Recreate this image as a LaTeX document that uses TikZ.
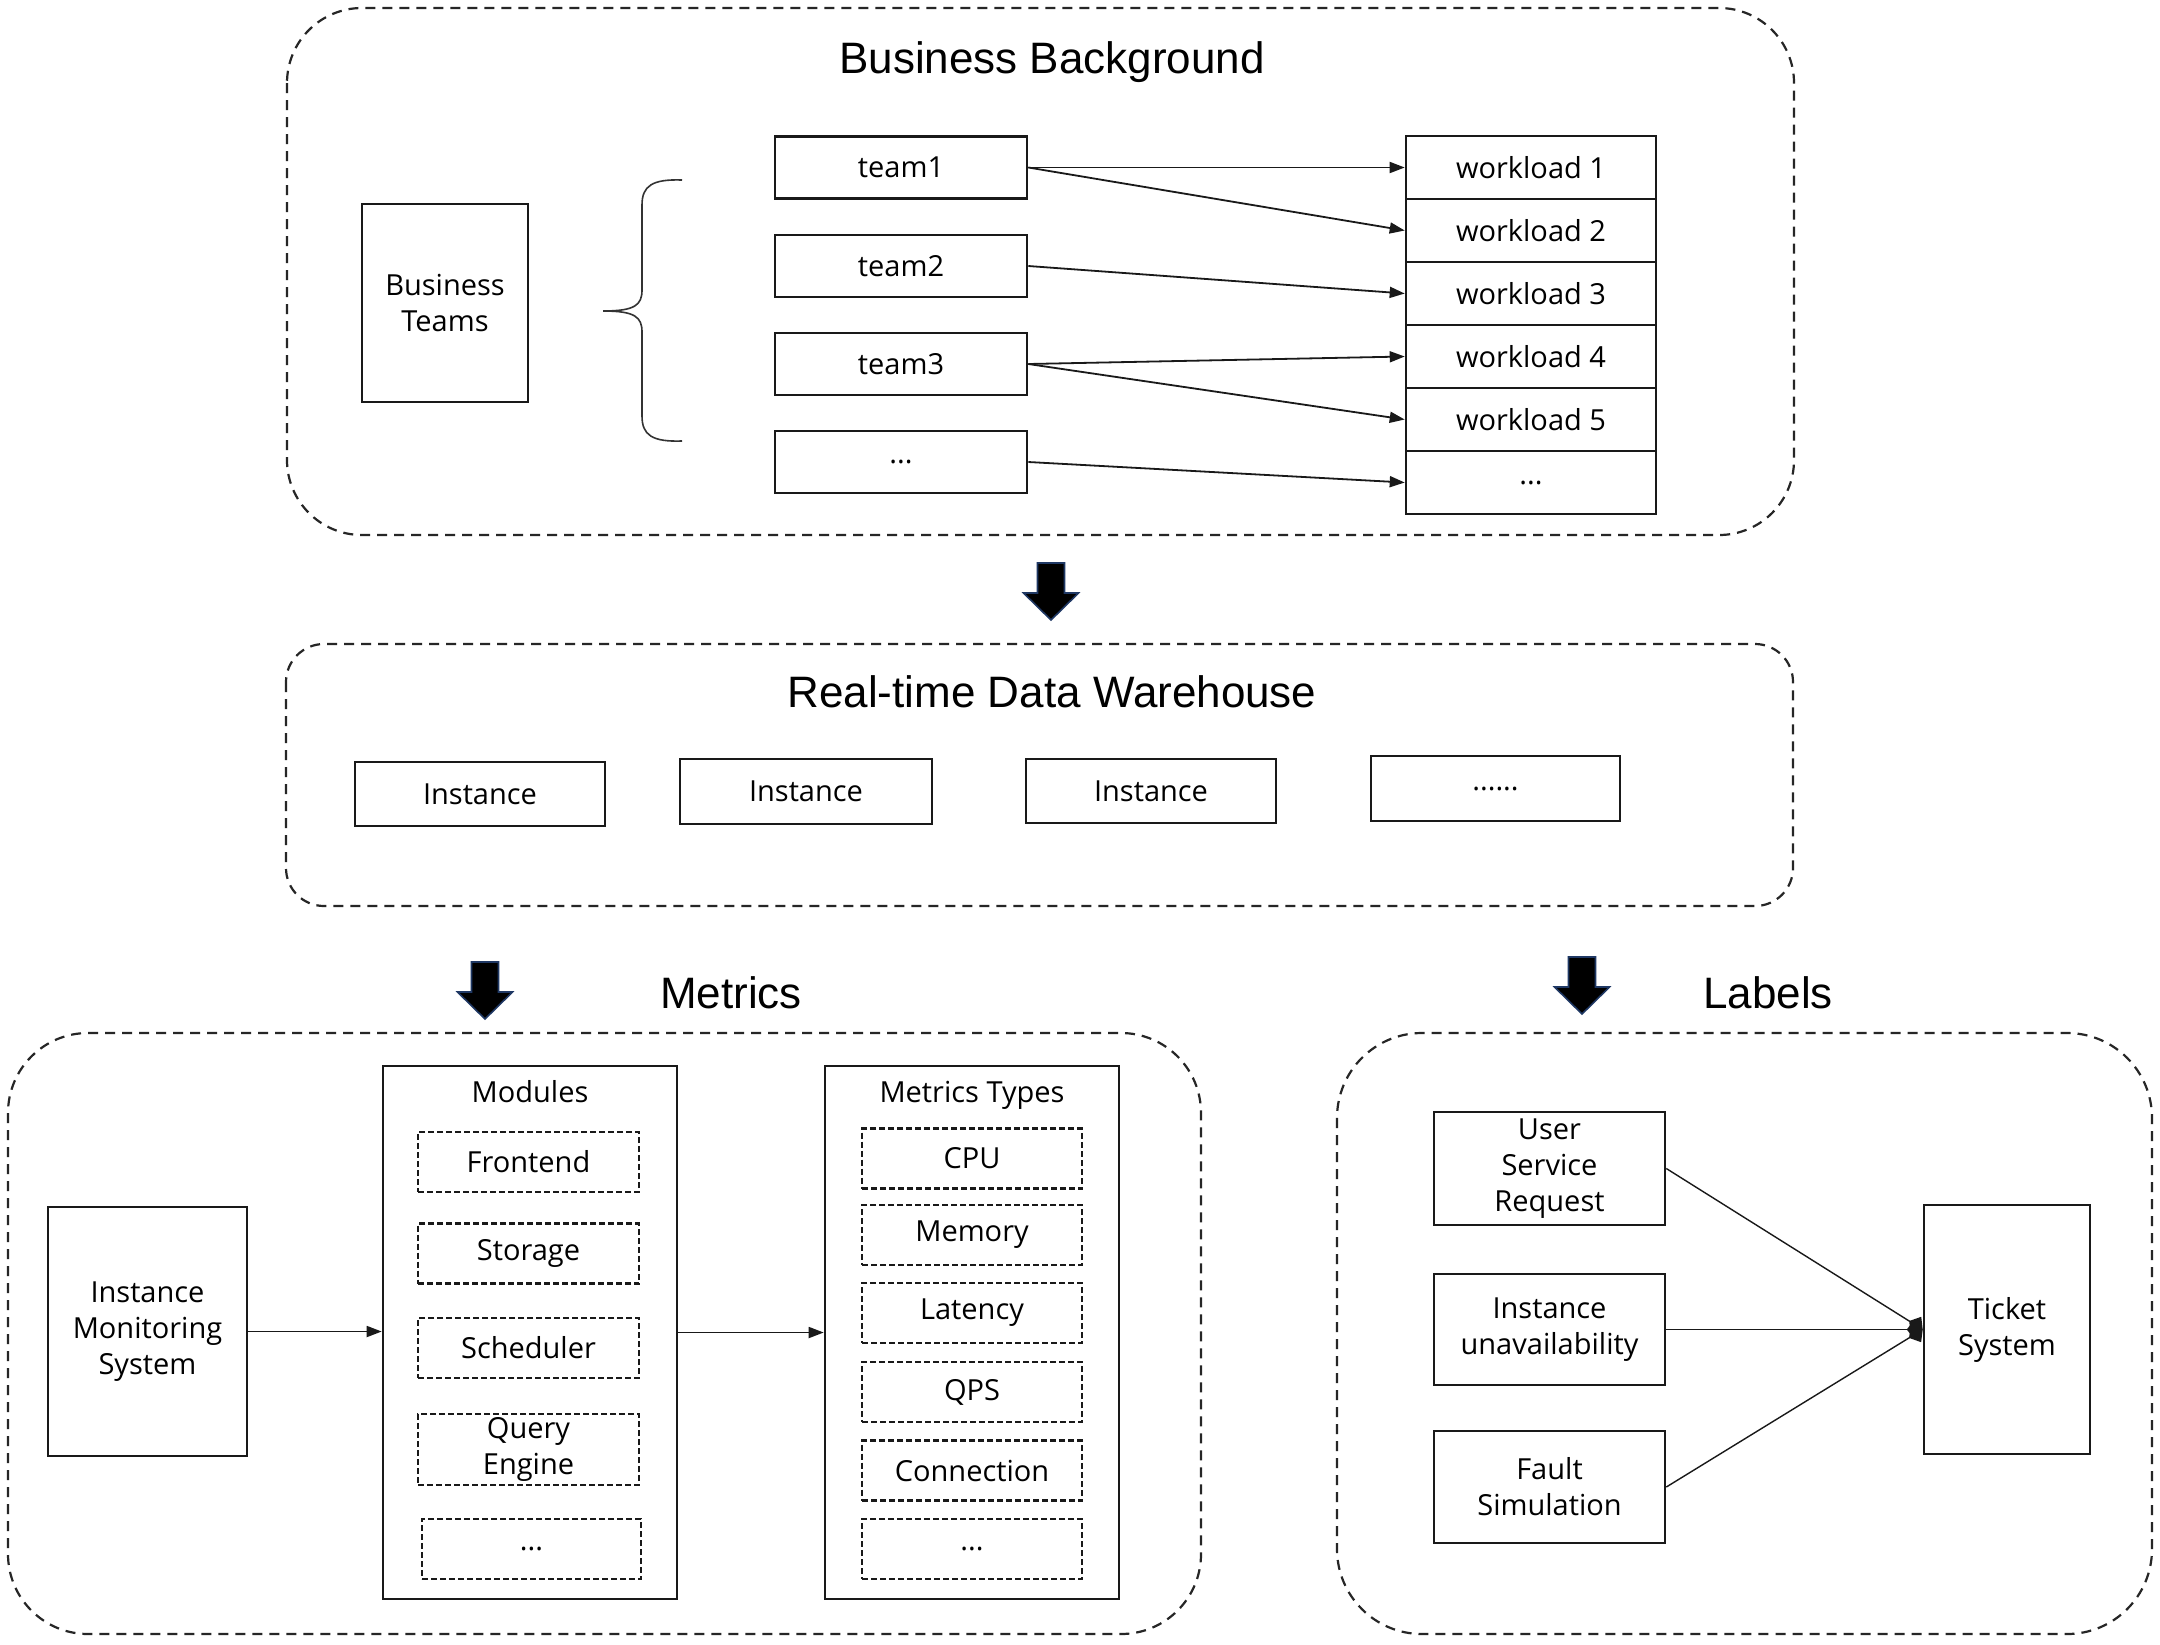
\documentclass[tikz,border=0pt]{standalone}
\usepackage{fontspec}
\setmainfont{Open Sans}
\newfontfamily\titlefont{Liberation Sans}
\usetikzlibrary{arrows.meta}
\definecolor{arrowblue}{HTML}{1F3864}
\newcommand\mydots{...}
\begin{document}
\begin{tikzpicture}[x=1pt,y=-1pt,
  box/.style={draw=black!90, line width=2.6pt, rectangle, inner sep=0pt, align=center, font=\fontsize{29}{36}\selectfont},
  dbox/.style={box, dash pattern=on 6pt off 3pt, line width=2.4pt},
  group/.style={draw=black!85, line width=2.2pt, dash pattern=on 10pt off 7pt},
  title/.style={font=\titlefont\fontsize{44}{52}\selectfont, anchor=base, inner sep=0pt},
  sub/.style={font=\fontsize{29}{36}\selectfont, anchor=base, inner sep=0pt},
  conn/.style={draw=black!90, line width=1.8pt, -{Triangle[length=15pt,width=11pt]}},
  thinconn/.style={draw=black!90, line width=1.4pt, -{Diamond[length=16pt,width=20pt]}},
  bigarrow/.pic={\filldraw[fill=black, draw=arrowblue, line width=1.6pt] (-13.5,0) -- (13.5,0) -- (13.5,30) -- (27.5,30) -- (0,57) -- (-27.5,30) -- (-13.5,30) -- cycle;}
]
\useasboundingbox (0,0) rectangle (2160,1644);
\fill[white] (0,0) rectangle (2160,1644);

% containers
\draw[group, rounded corners=75pt] (287,8) rectangle (1794,535);
\draw[group, rounded corners=38pt] (286,644) rectangle (1793,906);
\draw[group, rounded corners=80pt] (8,1033) rectangle (1201,1634);
\draw[group, rounded corners=85pt] (1337,1033) rectangle (2152,1634);

% titles
\node[title] (tbb) at (1052,73) {Business Background};
\node[title] (tdw) at (1052,707) {Real-time Data Warehouse};
\node[title] (tmet) at (731,1008) {Metrics};
\node[title] (tlab) at (1768,1008) {Labels};

% big arrows
\pic at (1051,563) {bigarrow};
\pic at (485,962) {bigarrow};
\pic at (1582,957) {bigarrow};

% Business background
\node[box, minimum width=166pt, minimum height=198pt] (bt) at (445,303) {Business\\Teams};
\draw[line width=1.6pt, black!80] (682,180) .. controls (652,179) and (642,186) .. (642,205) -- (642,290) .. controls (642,305) and (635,311) .. (603,311)
  (603,311) .. controls (635,311) and (642,317) .. (642,332) -- (642,416) .. controls (642,435) and (652,442) .. (682,441);

\foreach \n/\t/\y in {t1/team1/167.5, t2/team2/266, t3/team3/364, t4/\mydots/462}
  \node[box, minimum width=252pt, minimum height=62pt] (\n) at (901,\y) {\t};

\foreach \n/\t/\y in {w1/workload 1/167.5, w2/workload 2/230.5, w3/workload 3/293.5, w4/workload 4/356.5, w5/workload 5/419.5, w6/\mydots/482.5}
  \node[box, minimum width=250pt, minimum height=63pt] (\n) at (1531,\y) {\t};

\draw[conn] (t1.east) -- (w1.west);
\draw[conn] (t1.east) -- (w2.west);
\draw[conn] (t2.east) -- (w3.west);
\draw[conn] (t3.east) -- (w4.west);
\draw[conn] (t3.east) -- (w5.west);
\draw[conn] (t4.east) -- (w6.west);

% data warehouse
\node[box, minimum width=250pt, minimum height=64pt] (i1) at (480,794) {Instance};
\node[box, minimum width=252pt, minimum height=65pt] (i2) at (806,791.5) {Instance};
\node[box, minimum width=250pt, minimum height=64pt] (i3) at (1151,791) {Instance};
\node[box, minimum width=249pt, minimum height=65pt] (i4) at (1495.5,788.5) {......};

% metrics
\node[box, minimum width=199pt, minimum height=249pt] (ims) at (147.5,1331.5) {Instance\\Monitoring\\System};
\node[box, minimum width=294pt, minimum height=533pt] (mod) at (530,1332.5) {};
\node[sub] (modt) at (530,1102) {Modules};
\node[box, minimum width=294pt, minimum height=533pt] (mt) at (972,1332.5) {};
\node[sub] (mtt) at (972,1102) {Metrics Types};

\node[dbox, minimum width=221pt, minimum height=60pt] (m1) at (528.5,1162) {Frontend};
\node[dbox, minimum width=221pt, minimum height=60pt] (m2) at (528.5,1253.5) {Storage};
\node[dbox, minimum width=221pt, minimum height=60pt] (m3) at (528.5,1348) {Scheduler};
\node[dbox, minimum width=221pt, minimum height=71pt] (m4) at (528.5,1449.5) {Query\\Engine};
\node[dbox, minimum width=219pt, minimum height=60pt] (m5) at (531.5,1549) {\mydots};

\foreach \n/\t/\y in {k1/CPU/1158.5, k2/Memory/1235, k3/Latency/1313, k4/QPS/1392, k5/Connection/1470.5, k6/\mydots/1549}
  \node[dbox, minimum width=220pt, minimum height=60pt] (\n) at (972,\y) {\t};

\draw[conn] (ims.east) -- (mod.west |- ims.east);
\draw[conn] (mod.east) -- (mt.west);

% labels
\node[box, minimum width=231pt, minimum height=113pt] (usr) at (1549.5,1168.5) {User\\Service\\Request};
\node[box, minimum width=231pt, minimum height=111pt] (iu) at (1549.5,1329.5) {Instance\\unavailability};
\node[box, minimum width=231pt, minimum height=112pt] (fs) at (1549.5,1487) {Fault\\Simulation};
\node[box, minimum width=166pt, minimum height=249pt] (ts) at (2007,1329.5) {Ticket\\System};

\draw[thinconn] (usr.east) -- (ts.west);
\draw[thinconn] (iu.east) -- (ts.west);
\draw[thinconn] (fs.east) -- (ts.west);
\end{tikzpicture}
\end{document}
